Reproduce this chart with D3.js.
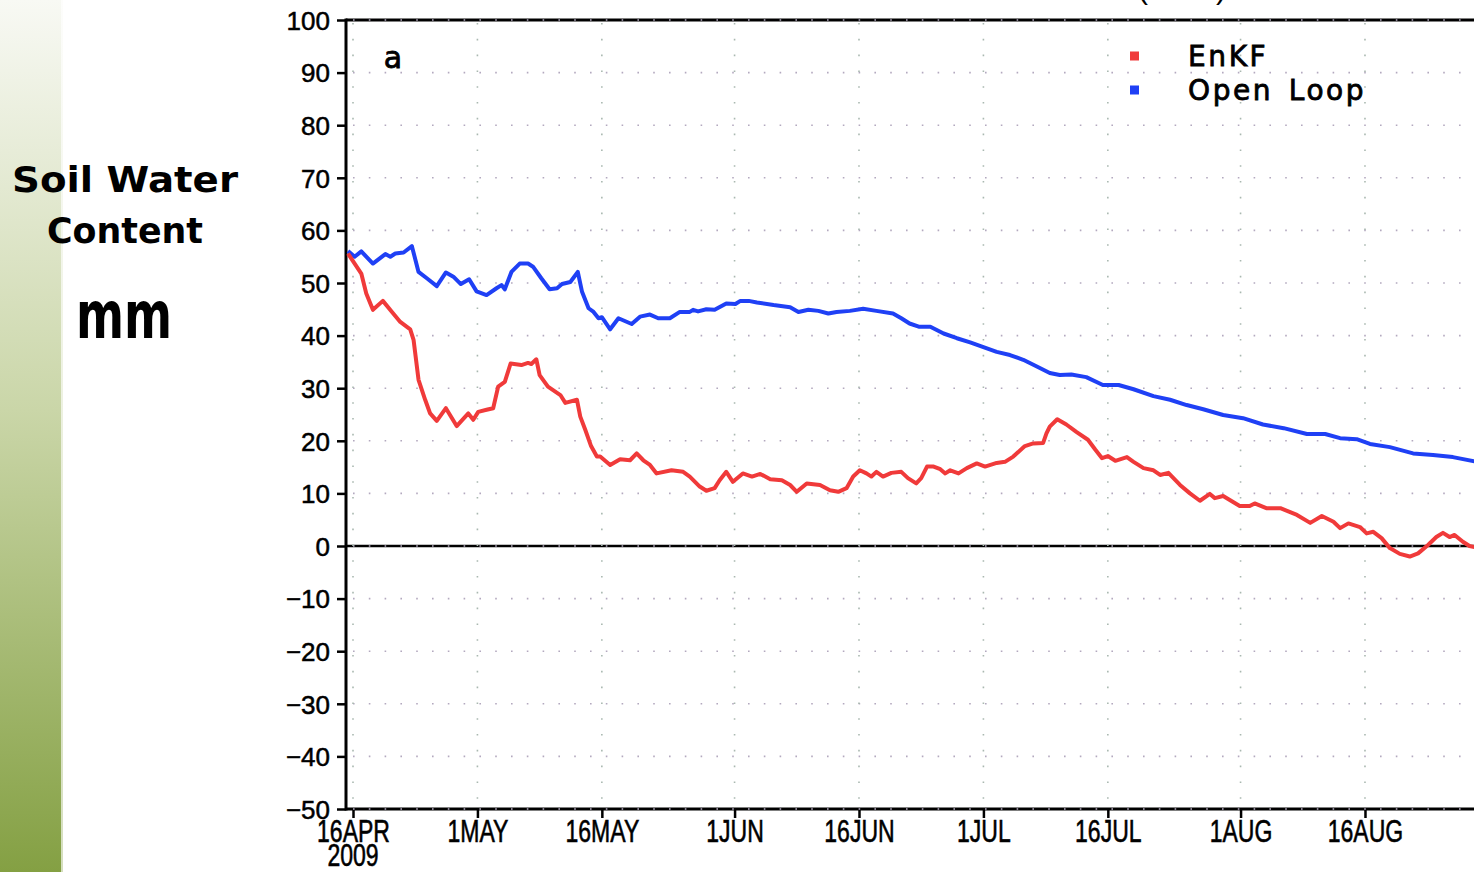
<!DOCTYPE html>
<html>
<head>
<meta charset="utf-8">
<script src="https://cdn.jsdelivr.net/npm/d3@7"></script>
<style>
  html, body { margin: 0; padding: 0; background: #ffffff; overflow: hidden; }
  svg { display: block; }
</style>
</head>
<body>
<svg id="chart" width="1474" height="872"></svg>
<script>
// ---------------- data (days after 16 APR 2009, soil water content in mm) ----------------
const enkfDays = [-0.6,0.2,1.0,1.6,2.4,3.6,4.7,5.7,6.9,7.3,7.9,8.7,9.3,10.1,11.2,12.5,13.9,14.5,15.1,16.1,16.9,17.5,18.3,19.0,20.3,21.1,21.5,22.1,22.5,23.5,25.0,25.6,27.0,27.4,28.0,28.7,29.4,29.8,31.0,32.2,33.4,34.2,35.0,35.8,36.6,38.4,39.8,40.6,41.8,42.6,43.6,44.2,45.0,45.8,47.0,48.1,49.1,50.3,51.7,52.7,53.5,54.7,56.3,57.5,58.5,59.5,60.3,61.1,61.9,62.5,63.1,63.9,64.9,66.1,66.9,67.9,68.5,69.2,70.0,70.8,71.4,72.0,73.0,74.0,75.2,76.2,77.6,78.6,79.6,81.0,82.0,83.2,83.6,84.0,84.9,86.0,87.2,88.6,89.5,90.3,91.0,91.9,93.3,94.1,95.3,96.5,97.3,98.3,99.7,100.9,102.1,103.3,103.9,104.9,106.9,108.1,108.7,110.1,111.8,113.8,115.4,116.8,118.2,119.0,120.0,121.4,122.2,123.0,124.0,125.0,126.2,127.4,128.4,129.6,130.6,131.4,132.2,132.8,133.8,134.6,135.5];
const enkfValues = [55.6,53.7,51.8,48.0,44.9,46.6,44.5,42.6,41.2,39.2,31.6,27.8,25.2,23.8,26.2,22.8,25.2,24.0,25.5,25.9,26.2,30.3,31.2,34.7,34.4,34.8,34.6,35.5,32.5,30.3,28.7,27.2,27.8,24.6,22.1,19.0,17.0,17.0,15.4,16.5,16.3,17.6,16.3,15.4,13.8,14.4,14.1,13.2,11.3,10.5,11.0,12.5,14.1,12.2,13.8,13.2,13.7,12.7,12.5,11.6,10.3,11.9,11.6,10.6,10.3,11.0,13.2,14.4,13.8,13.2,14.1,13.2,13.9,14.1,12.9,11.9,12.9,15.1,15.1,14.6,13.8,14.4,13.8,14.8,15.7,15.1,15.8,16.0,17.0,19.0,19.5,19.6,21.4,22.7,24.1,23.1,21.7,20.2,18.3,16.7,17.1,16.2,16.9,16.0,14.8,14.4,13.5,13.9,11.6,10.0,8.6,9.9,9.1,9.5,7.6,7.6,8.1,7.2,7.2,5.9,4.4,5.7,4.6,3.4,4.3,3.6,2.4,2.7,1.5,-0.4,-1.5,-2.0,-1.4,0.2,1.7,2.5,1.7,2.1,0.8,0.0,-0.3];

const openLoopDays = [-0.6,0.2,1.0,2.4,3.9,4.5,5.1,6.1,7.1,7.9,8.9,10.1,11.2,12.1,13.0,14.0,14.9,16.1,17.3,17.9,18.3,19.1,20.1,21.1,21.7,22.7,23.7,24.6,25.2,26.2,27.1,27.6,28.4,29.0,29.6,30.0,31.0,32.0,33.6,34.6,35.8,36.8,38.2,39.4,40.6,41.0,41.6,42.6,43.6,45.0,46.1,46.7,47.7,48.7,50.7,52.7,53.7,54.9,56.1,57.3,58.3,59.9,61.5,63.1,65.1,66.1,67.1,68.2,69.6,71.2,72.8,74.4,76.0,77.6,79.2,80.8,82.2,84.0,85.2,86.6,88.4,90.4,92.3,94.1,96.5,98.5,100.5,102.5,104.9,107.3,109.7,112.2,115.0,117.2,119.0,121.0,122.6,125.0,127.8,130.2,132.6,135.5];
const openLoopValues = [56.1,55.0,56.0,53.7,55.5,55.0,55.6,55.8,57.0,52.1,50.9,49.4,52.0,51.2,49.8,50.7,48.4,47.7,49.0,49.6,48.8,52.1,53.7,53.7,53.1,50.9,48.8,49.0,49.8,50.2,52.1,48.4,45.2,44.5,43.3,43.5,41.2,43.3,42.2,43.6,44.0,43.3,43.3,44.5,44.5,44.9,44.6,45.0,44.9,46.1,46.0,46.6,46.6,46.3,45.8,45.4,44.5,44.9,44.7,44.2,44.5,44.7,45.1,44.7,44.2,43.3,42.3,41.7,41.7,40.4,39.5,38.7,37.8,36.9,36.3,35.4,34.3,32.9,32.5,32.6,32.1,30.6,30.6,29.8,28.5,27.8,26.8,26.0,24.9,24.3,23.1,22.4,21.3,21.3,20.5,20.3,19.4,18.8,17.6,17.3,16.9,16.0];

const seriesNames = ["EnKF", "Open Loop"];
const yTickValues = [-50,-40,-30,-20,-10,0,10,20,30,40,50,60,70,80,90,100];
const xTickDates = ["2009-04-16","2009-05-01","2009-05-16","2009-06-01","2009-06-16","2009-07-01","2009-07-16","2009-08-01","2009-08-16"];
const xTickLabels = ["16APR","1MAY","16MAY","1JUN","16JUN","1JUL","16JUL","1AUG","16AUG"];
const yearLabel = "2009";
const sideTitle = ["Soil Water", "Content"];
const unitLabel = "mm";
const panelLabel = "a";

(function () {
// ---------------- setup ----------------
const svg = d3.select("#chart");
const W = 1474, H = 872;
const pL = 346, pT = 20, pB = 809;
const xEnd = 1497.7;
const base = Date.UTC(2009, 3, 16);
const toDate = d => new Date(base + d * 864e5);
const parseTick = s => new Date(s + "T00:00:00Z");

const x = d3.scaleUtc()
  .domain([new Date(Date.UTC(2009, 3, 15, 3, 45)), new Date(Date.UTC(2009, 8, 1))])
  .range([pL, xEnd]);
const y = d3.scaleLinear().domain([-50, 100]).range([pB, pT]);

svg.append("rect").attr("width", W).attr("height", H).attr("fill", "#fff");

// side bar gradient
const defs = svg.append("defs");
const grad = defs.append("linearGradient").attr("id", "side").attr("x1", 0).attr("y1", 0).attr("x2", 0).attr("y2", 1);
grad.append("stop").attr("offset", "0%").attr("stop-color", "#f8f9f4");
grad.append("stop").attr("offset", "47%").attr("stop-color", "#cad6a8");
grad.append("stop").attr("offset", "100%").attr("stop-color", "#84a043");
svg.append("rect").attr("x", 0).attr("y", 0).attr("width", 61).attr("height", H).attr("fill", "url(#side)");
svg.append("rect").attr("x", 61).attr("y", 0).attr("width", 2).attr("height", H).attr("fill", "url(#side)").attr("opacity", 0.35);

defs.append("clipPath").attr("id", "plotclip")
  .append("rect").attr("x", pL).attr("y", pT - 2).attr("width", xEnd - pL).attr("height", pB - pT + 4);

// side titles
const sideFont = "'Comic Sans MS', 'DejaVu Sans', sans-serif";
svg.append("text").attr("x", 125).attr("y", 192).attr("text-anchor", "middle")
  .attr("font-family", sideFont).attr("font-weight", "bold").attr("font-size", 36)
  .attr("textLength", 226).attr("lengthAdjust", "spacingAndGlyphs").text(sideTitle[0]);
svg.append("text").attr("x", 125).attr("y", 243).attr("text-anchor", "middle")
  .attr("font-family", sideFont).attr("font-weight", "bold").attr("font-size", 36)
  .attr("textLength", 156).attr("lengthAdjust", "spacingAndGlyphs").text(sideTitle[1]);
svg.append("text").attr("x", 124).attr("y", 338).attr("text-anchor", "middle")
  .attr("font-family", sideFont).attr("font-weight", "bold").attr("font-size", 66)
  .attr("textLength", 96).attr("lengthAdjust", "spacingAndGlyphs").text(unitLabel);

// partially visible title at the top edge
svg.append("text").attr("x", 1185).attr("y", -1).attr("text-anchor", "middle")
  .attr("font-family", "'Liberation Sans', Arial, sans-serif").attr("font-size", 30)
  .attr("letter-spacing", 6).text("(mm)");

// grid group (drawn later, over the frame)
const gridG = svg.append("g").attr("clip-path", "url(#plotclip)");

// ---------------- frame ----------------
svg.append("line").attr("x1", pL).attr("x2", W).attr("y1", pT).attr("y2", pT)
  .attr("stroke", "#000").attr("stroke-width", 3);
svg.append("line").attr("x1", pL).attr("x2", W).attr("y1", pB).attr("y2", pB)
  .attr("stroke", "#000").attr("stroke-width", 3);
svg.append("line").attr("x1", pL).attr("x2", W).attr("y1", y(0)).attr("y2", y(0))
  .attr("stroke", "#000").attr("stroke-width", 2.5);

const tickFont = "'Liberation Sans', Arial, Helvetica, sans-serif";

// y axis
const yAxis = d3.axisLeft(y).tickValues(yTickValues).tickSize(9).tickPadding(7)
  .tickFormat(d3.format("d"));
const yG = svg.append("g").attr("transform", `translate(${pL},0)`).call(yAxis);
yG.select(".domain").attr("stroke", "#000").attr("stroke-width", 3)
  .attr("d", `M0,${pT - 1.5}V${pB + 1.5}`);
yG.selectAll(".tick line").attr("stroke", "#000").attr("stroke-width", 2.5);
yG.selectAll(".tick text").attr("font-family", tickFont).attr("font-size", 26)
  .attr("fill", "#000").attr("stroke", "#000").attr("stroke-width", 0.5).attr("dy", "0.36em");

// x axis
const xAxis = d3.axisBottom(x).tickValues(xTickDates.map(parseTick))
  .tickSize(9).tickFormat((d, i) => xTickLabels[i]);
const xG = svg.append("g").attr("transform", `translate(0,${pB})`).call(xAxis);
xG.select(".domain").remove();
xG.selectAll(".tick line").attr("stroke", "#000").attr("stroke-width", 2.5);
xG.selectAll(".tick text").attr("font-family", tickFont).attr("font-size", 32)
  .attr("fill", "#000").attr("stroke", "#000").attr("stroke-width", 0.6).attr("y", 0).attr("dy", 0)
  .attr("transform", "translate(0,33) scale(0.72,1)");
svg.append("text")
  .attr("transform", `translate(${x(parseTick(xTickDates[0]))},${pB + 57}) scale(0.72,1)`)
  .attr("font-family", tickFont).attr("font-size", 32).attr("text-anchor", "middle")
  .attr("fill", "#000").attr("stroke", "#000").attr("stroke-width", 0.6).text(yearLabel);

// grid: horizontal at y ticks, vertical at x ticks, faint dots
gridG.raise();
gridG.selectAll("line.h").data(yTickValues).join("line").attr("class", "h")
  .attr("x1", pL + 7).attr("x2", W).attr("y1", d => y(d)).attr("y2", d => y(d))
  .attr("stroke", "#b3a9bf").attr("stroke-width", 1.6).attr("stroke-dasharray", "1.6,14.2");
gridG.selectAll("line.v").data(xTickDates).join("line").attr("class", "v")
  .attr("x1", d => x(parseTick(d))).attr("x2", d => x(parseTick(d)))
  .attr("y1", pT + 3).attr("y2", pB)
  .attr("stroke", "#a9b8b0").attr("stroke-width", 1.6).attr("stroke-dasharray", "1.6,14.2");

// ---------------- lines ----------------
const line = d3.line().x(d => x(d[0])).y(d => y(d[1]));
const enkf = enkfDays.map((d, i) => [toDate(d), enkfValues[i]]);
const ol = openLoopDays.map((d, i) => [toDate(d), openLoopValues[i]]);
const colors = ["#f03a3a", "#1f40f5"];
const linesG = svg.append("g").attr("clip-path", "url(#plotclip)");
linesG.append("path").datum(ol).attr("d", line).attr("fill", "none")
  .attr("stroke", colors[1]).attr("stroke-width", 4).attr("stroke-linejoin", "round");
linesG.append("path").datum(enkf).attr("d", line).attr("fill", "none")
  .attr("stroke", colors[0]).attr("stroke-width", 4).attr("stroke-linejoin", "round");

// panel label
svg.append("text").attr("x", 393).attr("y", 68).attr("text-anchor", "middle")
  .attr("font-family", "'DejaVu Sans', sans-serif").attr("font-size", 30).attr("fill", "#000")
  .attr("stroke", "#000").attr("stroke-width", 0.8).text(panelLabel);

// legend
const legG = svg.append("g");
seriesNames.forEach((name, i) => {
  const ly = [56, 90][i];
  legG.append("rect").attr("x", 1130).attr("y", ly - 4.5).attr("width", 9).attr("height", 9)
    .attr("fill", colors[i]);
  legG.append("text").attr("x", 1188).attr("y", ly + 10)
    .attr("font-family", "'DejaVu Sans', sans-serif").attr("font-size", 28)
    .attr("letter-spacing", 2.6).attr("word-spacing", 4).attr("fill", "#000")
    .attr("stroke", "#000").attr("stroke-width", 0.8).text(name);
});
})();
</script>
</body>
</html>
